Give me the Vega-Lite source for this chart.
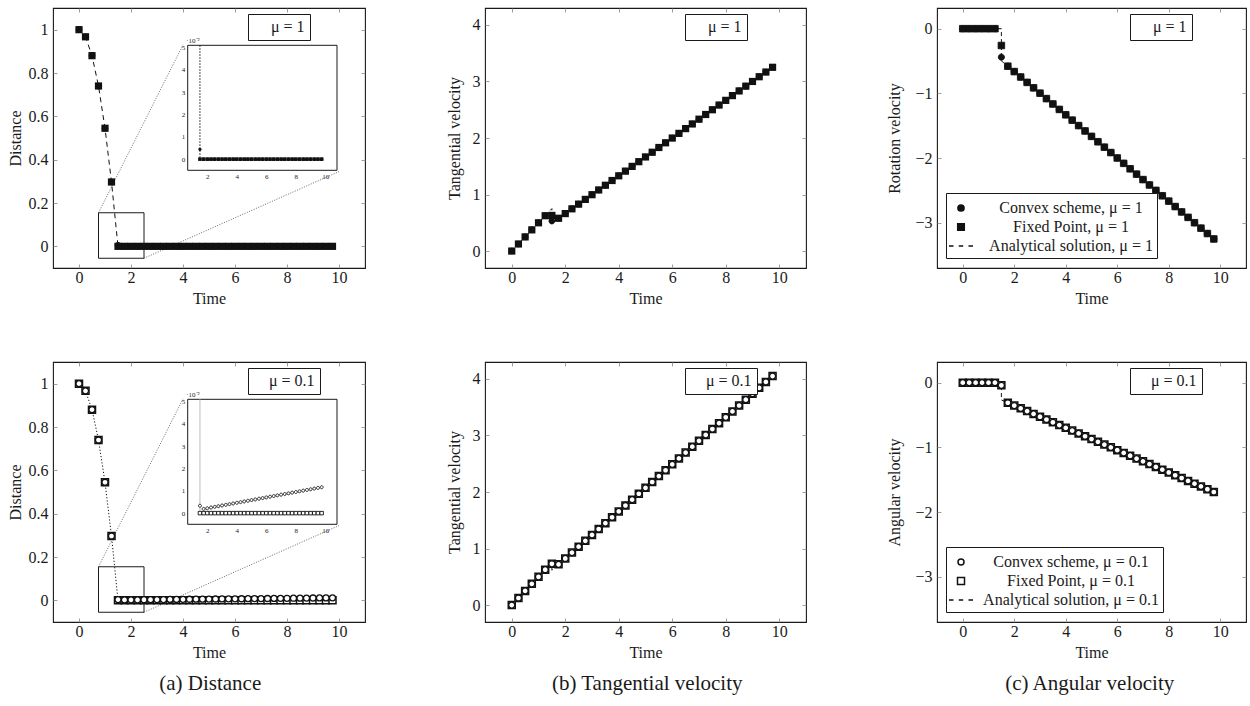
{
"$schema": "https://vega.github.io/schema/vega-lite/v6.json",
"padding": {"left": 6, "top": 7, "right": 1, "bottom": 1},
"background": "white",
"config": {
 "font": "Liberation Serif",
 "view": {"stroke": "#1a1a1a", "strokeWidth": 1.1},
 "axis": {"domain": false, "grid": false, "labelFont": "Liberation Serif", "labelFontSize": 16, "labelColor": "#1a1a1a", "titleFont": "Liberation Serif", "titleFontSize": 16, "titleFontWeight": "normal", "titleColor": "#1a1a1a", "tickColor": "#888888", "tickWidth": 0.8},
 "legend": {"labelFont": "Liberation Serif", "labelFontSize": 16, "labelColor": "#1a1a1a", "strokeColor": "#1a1a1a", "fillColor": "white"},
 "title": {"font": "Liberation Serif", "fontSize": 21, "fontWeight": "normal", "color": "#1a1a1a"}
},
"datasets": {
 "zoomBox": [{"t": 0.75, "t2": 2.5, "v": -0.055, "v2": 0.155}],
 "zoomLines": [{"t": 0.75, "v": 0.155, "t2": 4.0, "v2": 0.93}, {"t": 2.5, "v": -0.055, "t2": 10.0, "v2": 0.345}],
 "insetBox": [{"t": 0.67, "t2": 10.79, "v": -0.005, "v2": 0.051}],
 "insetA": [{"t": 1.5, "v": 0.051}, {"t": 1.5, "v": 0}, {"t": 9.75, "v": 0}],
 "TL_A": [{"t":0,"v":1},{"t":0.25,"v":0.967},{"t":0.5,"v":0.88},{"t":0.75,"v":0.74},{"t":1,"v":0.545},{"t":1.25,"v":0.297},{"t":1.5,"v":0},{"t":9.75,"v":0}],
 "TM_A": [{"t":0,"v":0},{"t":1.5,"v":0.75},{"t":1.5,"v":0.497},{"t":9.75,"v":3.251}],
 "BM_A": [{"t":0,"v":0},{"t":1.5,"v":0.75},{"t":1.5,"v":0.616},{"t":9.75,"v":4.051}],
 "TR_A": [{"t":0,"v":0},{"t":1.5,"v":0},{"t":1.5,"v":-0.497},{"t":9.75,"v":-3.251}],
 "BR_A": [{"t":0,"v":0},{"t":1.5,"v":0},{"t":1.5,"v":-0.267},{"t":9.75,"v":-1.69}],
 "TL": [{"t":0,"f":1,"c":1},{"t":0.25,"f":0.967,"c":0.967},{"t":0.5,"f":0.88,"c":0.88},{"t":0.75,"f":0.74,"c":0.74},{"t":1,"f":0.545,"c":0.545},{"t":1.25,"f":0.297,"c":0.297},{"t":1.5,"f":0,"c":0.0044},{"t":1.75,"f":0,"c":0},{"t":2,"f":0,"c":0},{"t":2.25,"f":0,"c":0},{"t":2.5,"f":0,"c":0},{"t":2.75,"f":0,"c":0},{"t":3,"f":0,"c":0},{"t":3.25,"f":0,"c":0},{"t":3.5,"f":0,"c":0},{"t":3.75,"f":0,"c":0},{"t":4,"f":0,"c":0},{"t":4.25,"f":0,"c":0},{"t":4.5,"f":0,"c":0},{"t":4.75,"f":0,"c":0},{"t":5,"f":0,"c":0},{"t":5.25,"f":0,"c":0},{"t":5.5,"f":0,"c":0},{"t":5.75,"f":0,"c":0},{"t":6,"f":0,"c":0},{"t":6.25,"f":0,"c":0},{"t":6.5,"f":0,"c":0},{"t":6.75,"f":0,"c":0},{"t":7,"f":0,"c":0},{"t":7.25,"f":0,"c":0},{"t":7.5,"f":0,"c":0},{"t":7.75,"f":0,"c":0},{"t":8,"f":0,"c":0},{"t":8.25,"f":0,"c":0},{"t":8.5,"f":0,"c":0},{"t":8.75,"f":0,"c":0},{"t":9,"f":0,"c":0},{"t":9.25,"f":0,"c":0},{"t":9.5,"f":0,"c":0},{"t":9.75,"f":0,"c":0}],
 "BL": [{"t":0,"f":1,"c":1},{"t":0.25,"f":0.967,"c":0.967},{"t":0.5,"f":0.88,"c":0.88},{"t":0.75,"f":0.74,"c":0.74},{"t":1,"f":0.545,"c":0.545},{"t":1.25,"f":0.297,"c":0.297},{"t":1.5,"f":0,"c":0.0033},{"t":1.75,"f":0,"c":0.0019},{"t":2,"f":0,"c":0.0022},{"t":2.25,"f":0,"c":0.00251},{"t":2.5,"f":0,"c":0.00281},{"t":2.75,"f":0,"c":0.00311},{"t":3,"f":0,"c":0.00342},{"t":3.25,"f":0,"c":0.00372},{"t":3.5,"f":0,"c":0.00402},{"t":3.75,"f":0,"c":0.00433},{"t":4,"f":0,"c":0.00463},{"t":4.25,"f":0,"c":0.00493},{"t":4.5,"f":0,"c":0.00523},{"t":4.75,"f":0,"c":0.00554},{"t":5,"f":0,"c":0.00584},{"t":5.25,"f":0,"c":0.00614},{"t":5.5,"f":0,"c":0.00645},{"t":5.75,"f":0,"c":0.00675},{"t":6,"f":0,"c":0.00705},{"t":6.25,"f":0,"c":0.00736},{"t":6.5,"f":0,"c":0.00766},{"t":6.75,"f":0,"c":0.00796},{"t":7,"f":0,"c":0.00827},{"t":7.25,"f":0,"c":0.00857},{"t":7.5,"f":0,"c":0.00887},{"t":7.75,"f":0,"c":0.00918},{"t":8,"f":0,"c":0.00948},{"t":8.25,"f":0,"c":0.00978},{"t":8.5,"f":0,"c":0.01008},{"t":8.75,"f":0,"c":0.01039},{"t":9,"f":0,"c":0.01069},{"t":9.25,"f":0,"c":0.01099},{"t":9.5,"f":0,"c":0.0113},{"t":9.75,"f":0,"c":0.0116}],
 "TM": [{"t":0,"f":0,"c":0},{"t":0.25,"f":0.125,"c":0.125},{"t":0.5,"f":0.25,"c":0.25},{"t":0.75,"f":0.375,"c":0.375},{"t":1,"f":0.5,"c":0.5},{"t":1.25,"f":0.625,"c":0.625},{"t":1.5,"f":0.63,"c":0.53},{"t":1.75,"f":0.58,"c":0.58},{"t":2,"f":0.663,"c":0.663},{"t":2.25,"f":0.747,"c":0.747},{"t":2.5,"f":0.83,"c":0.83},{"t":2.75,"f":0.914,"c":0.914},{"t":3,"f":0.997,"c":0.997},{"t":3.25,"f":1.081,"c":1.081},{"t":3.5,"f":1.164,"c":1.164},{"t":3.75,"f":1.248,"c":1.248},{"t":4,"f":1.331,"c":1.331},{"t":4.25,"f":1.414,"c":1.414},{"t":4.5,"f":1.498,"c":1.498},{"t":4.75,"f":1.581,"c":1.581},{"t":5,"f":1.665,"c":1.665},{"t":5.25,"f":1.748,"c":1.748},{"t":5.5,"f":1.832,"c":1.832},{"t":5.75,"f":1.915,"c":1.915},{"t":6,"f":1.999,"c":1.999},{"t":6.25,"f":2.082,"c":2.082},{"t":6.5,"f":2.166,"c":2.166},{"t":6.75,"f":2.249,"c":2.249},{"t":7,"f":2.333,"c":2.333},{"t":7.25,"f":2.416,"c":2.416},{"t":7.5,"f":2.5,"c":2.5},{"t":7.75,"f":2.583,"c":2.583},{"t":8,"f":2.666,"c":2.666},{"t":8.25,"f":2.75,"c":2.75},{"t":8.5,"f":2.833,"c":2.833},{"t":8.75,"f":2.917,"c":2.917},{"t":9,"f":3.0,"c":3.0},{"t":9.25,"f":3.084,"c":3.084},{"t":9.5,"f":3.167,"c":3.167},{"t":9.75,"f":3.251,"c":3.251}],
 "BM": [{"t":0,"f":0,"c":0},{"t":0.25,"f":0.125,"c":0.125},{"t":0.5,"f":0.25,"c":0.25},{"t":0.75,"f":0.375,"c":0.375},{"t":1,"f":0.5,"c":0.5},{"t":1.25,"f":0.625,"c":0.625},{"t":1.5,"f":0.73,"c":0.73},{"t":1.75,"f":0.72,"c":0.72},{"t":2,"f":0.824,"c":0.824},{"t":2.25,"f":0.928,"c":0.928},{"t":2.5,"f":1.032,"c":1.032},{"t":2.75,"f":1.136,"c":1.136},{"t":3,"f":1.241,"c":1.241},{"t":3.25,"f":1.345,"c":1.345},{"t":3.5,"f":1.449,"c":1.449},{"t":3.75,"f":1.553,"c":1.553},{"t":4,"f":1.657,"c":1.657},{"t":4.25,"f":1.761,"c":1.761},{"t":4.5,"f":1.865,"c":1.865},{"t":4.75,"f":1.969,"c":1.969},{"t":5,"f":2.073,"c":2.073},{"t":5.25,"f":2.177,"c":2.177},{"t":5.5,"f":2.281,"c":2.281},{"t":5.75,"f":2.385,"c":2.385},{"t":6,"f":2.49,"c":2.49},{"t":6.25,"f":2.594,"c":2.594},{"t":6.5,"f":2.698,"c":2.698},{"t":6.75,"f":2.802,"c":2.802},{"t":7,"f":2.906,"c":2.906},{"t":7.25,"f":3.01,"c":3.01},{"t":7.5,"f":3.114,"c":3.114},{"t":7.75,"f":3.218,"c":3.218},{"t":8,"f":3.322,"c":3.322},{"t":8.25,"f":3.426,"c":3.426},{"t":8.5,"f":3.53,"c":3.53},{"t":8.75,"f":3.634,"c":3.634},{"t":9,"f":3.739,"c":3.739},{"t":9.25,"f":3.843,"c":3.843},{"t":9.5,"f":3.947,"c":3.947},{"t":9.75,"f":4.051,"c":4.051}],
 "TR": [{"t":0,"f":0,"c":0},{"t":0.25,"f":0,"c":0},{"t":0.5,"f":0,"c":0},{"t":0.75,"f":0,"c":0},{"t":1,"f":0,"c":0},{"t":1.25,"f":0,"c":0},{"t":1.5,"f":-0.26,"c":-0.44},{"t":1.75,"f":-0.58,"c":-0.58},{"t":2,"f":-0.663,"c":-0.663},{"t":2.25,"f":-0.747,"c":-0.747},{"t":2.5,"f":-0.83,"c":-0.83},{"t":2.75,"f":-0.914,"c":-0.914},{"t":3,"f":-0.997,"c":-0.997},{"t":3.25,"f":-1.081,"c":-1.081},{"t":3.5,"f":-1.164,"c":-1.164},{"t":3.75,"f":-1.248,"c":-1.248},{"t":4,"f":-1.331,"c":-1.331},{"t":4.25,"f":-1.414,"c":-1.414},{"t":4.5,"f":-1.498,"c":-1.498},{"t":4.75,"f":-1.581,"c":-1.581},{"t":5,"f":-1.665,"c":-1.665},{"t":5.25,"f":-1.748,"c":-1.748},{"t":5.5,"f":-1.832,"c":-1.832},{"t":5.75,"f":-1.915,"c":-1.915},{"t":6,"f":-1.999,"c":-1.999},{"t":6.25,"f":-2.082,"c":-2.082},{"t":6.5,"f":-2.166,"c":-2.166},{"t":6.75,"f":-2.249,"c":-2.249},{"t":7,"f":-2.333,"c":-2.333},{"t":7.25,"f":-2.416,"c":-2.416},{"t":7.5,"f":-2.5,"c":-2.5},{"t":7.75,"f":-2.583,"c":-2.583},{"t":8,"f":-2.666,"c":-2.666},{"t":8.25,"f":-2.75,"c":-2.75},{"t":8.5,"f":-2.833,"c":-2.833},{"t":8.75,"f":-2.917,"c":-2.917},{"t":9,"f":-3.0,"c":-3.0},{"t":9.25,"f":-3.084,"c":-3.084},{"t":9.5,"f":-3.167,"c":-3.167},{"t":9.75,"f":-3.251,"c":-3.251}],
 "BR": [{"t":0,"f":0,"c":0},{"t":0.25,"f":0,"c":0},{"t":0.5,"f":0,"c":0},{"t":0.75,"f":0,"c":0},{"t":1,"f":0,"c":0},{"t":1.25,"f":0,"c":0},{"t":1.5,"f":-0.04,"c":-0.04},{"t":1.75,"f":-0.31,"c":-0.31},{"t":2,"f":-0.353,"c":-0.353},{"t":2.25,"f":-0.396,"c":-0.396},{"t":2.5,"f":-0.439,"c":-0.439},{"t":2.75,"f":-0.483,"c":-0.483},{"t":3,"f":-0.526,"c":-0.526},{"t":3.25,"f":-0.569,"c":-0.569},{"t":3.5,"f":-0.612,"c":-0.612},{"t":3.75,"f":-0.655,"c":-0.655},{"t":4,"f":-0.698,"c":-0.698},{"t":4.25,"f":-0.741,"c":-0.741},{"t":4.5,"f":-0.784,"c":-0.784},{"t":4.75,"f":-0.828,"c":-0.828},{"t":5,"f":-0.871,"c":-0.871},{"t":5.25,"f":-0.914,"c":-0.914},{"t":5.5,"f":-0.957,"c":-0.957},{"t":5.75,"f":-1.0,"c":-1.0},{"t":6,"f":-1.043,"c":-1.043},{"t":6.25,"f":-1.086,"c":-1.086},{"t":6.5,"f":-1.129,"c":-1.129},{"t":6.75,"f":-1.173,"c":-1.173},{"t":7,"f":-1.216,"c":-1.216},{"t":7.25,"f":-1.259,"c":-1.259},{"t":7.5,"f":-1.302,"c":-1.302},{"t":7.75,"f":-1.345,"c":-1.345},{"t":8,"f":-1.388,"c":-1.388},{"t":8.25,"f":-1.431,"c":-1.431},{"t":8.5,"f":-1.474,"c":-1.474},{"t":8.75,"f":-1.518,"c":-1.518},{"t":9,"f":-1.561,"c":-1.561},{"t":9.25,"f":-1.604,"c":-1.604},{"t":9.5,"f":-1.647,"c":-1.647},{"t":9.75,"f":-1.69,"c":-1.69}]
},
"spacing": 79,
"resolve": {"scale": {"shape": "independent", "strokeDash": "independent"}},
"hconcat": [
{
 "spacing": 54,
 "resolve": {"scale": {"shape": "independent", "strokeDash": "independent"}},
 "title": {"text": "(a) Distance", "orient": "bottom", "anchor": "middle", "offset": 12, "dx": 24},
 "vconcat": [
 {
  "width": 312, "height": 260,
  "resolve": {"scale": {"x": "independent", "y": "independent"}},
  "layer": [
    {"data": {"name": "zoomBox"}, "mark": {"type": "rect", "fillOpacity": 0, "stroke": "#1a1a1a", "strokeWidth": 1},
     "encoding": {"x": {"field": "t", "type": "quantitative", "scale": {"domain": [-1, 11], "nice": false, "zero": false}, "axis": {"orient": "bottom", "title": "Time", "values": [0,2,4,6,8,10], "offset": -4, "tickSize": 4, "labelPadding": 1, "titlePadding": 5, "format": "d"}}, "x2": {"field": "t2"},
      "y": {"field": "v", "type": "quantitative", "scale": {"domain": [-0.1, 1.1], "nice": false, "zero": false}, "axis": {"orient": "left", "title": "Distance", "values": [0,0.2,0.4,0.6,0.8,1], "offset": -4, "tickSize": 4, "labelPadding": 5, "titlePadding": 5, "format": ".1~f"}}, "y2": {"field": "v2"}}},
    {"data": {"name": "zoomBox"}, "mark": {"type": "point", "opacity": 0},
     "encoding": {"x": {"field": "t", "type": "quantitative", "scale": {"domain": [-1, 11], "nice": false, "zero": false}, "axis": {"orient": "top", "title": null, "labels": false, "values": [0,2,4,6,8,10], "offset": -4, "tickSize": 4}},
      "y": {"field": "v", "type": "quantitative", "scale": {"domain": [-0.1, 1.1], "nice": false, "zero": false}, "axis": {"orient": "right", "title": null, "labels": false, "values": [0,0.2,0.4,0.6,0.8,1], "offset": -4, "tickSize": 4}}}},
    {"data": {"name": "zoomLines"}, "mark": {"type": "rule", "stroke": "#444444", "strokeWidth": 0.8, "strokeDash": [1, 1.5]},
     "encoding": {"x": {"field": "t", "type": "quantitative", "scale": {"domain": [-1, 11], "nice": false, "zero": false}, "axis": null}, "x2": {"field": "t2"},
      "y": {"field": "v", "type": "quantitative", "scale": {"domain": [-0.1, 1.1], "nice": false, "zero": false}, "axis": null}, "y2": {"field": "v2"}}},
    {"data": {"name": "TL_A"}, "mark": {"type": "line", "stroke": "#111111", "strokeWidth": 1},
     "encoding": {"x": {"field": "t", "type": "quantitative", "scale": {"domain": [-1, 11], "nice": false, "zero": false}, "axis": null},
      "y": {"field": "v", "type": "quantitative", "scale": {"domain": [-0.1, 1.1], "nice": false, "zero": false}, "axis": null},
      "order": {"value": null},
      "strokeDash": {"datum": "μ = 1", "type": "nominal", "scale": {"range": [[5, 4]]}, "legend": {"title": null, "orient": "none", "legendX": 195, "legendY": 6, "padding": 5, "symbolSize": 4, "symbolOpacity": 0, "labelOffset": 2, "labelColor": "#1a1a1a", "labelExpr": "datum.label + '\u00a0\u00a0\u00a0\u00a0\u00a0'"}}}},
    {"data": {"name": "TL"}, "mark": {"type": "point", "filled": true, "fill": "#111111", "strokeWidth": 0, "size": 400, "opacity": 1},
     "encoding": {"x": {"field": "t", "type": "quantitative", "scale": {"domain": [-1, 11], "nice": false, "zero": false}, "axis": null},
      "y": {"field": "f", "type": "quantitative", "scale": {"domain": [-0.1, 1.1], "nice": false, "zero": false}, "axis": null},
      "shape": {"datum": "Fixed Point, μ = 1", "type": "nominal", "scale": {"domain": ["Convex scheme, μ = 1", "Fixed Point, μ = 1", "Analytical solution, μ = 1"], "range": ["M0.33,0A0.33,0.33,0,1,1,-0.33,0A0.33,0.33,0,1,1,0.33,0Z", "M-0.36,-0.36H0.36V0.36H-0.36Z", "M-1.2,0H-0.75M-0.22,0H0.22M0.75,0H1.2"]}, "legend": null}}},
    {"data": {"name": "TL"}, "mark": {"type": "point", "filled": true, "fill": "#111111", "strokeWidth": 0, "size": 400, "opacity": 1},
     "encoding": {"x": {"field": "t", "type": "quantitative", "scale": {"domain": [-1, 11], "nice": false, "zero": false}, "axis": null},
      "y": {"field": "c", "type": "quantitative", "scale": {"domain": [-0.1, 1.1], "nice": false, "zero": false}, "axis": null},
      "shape": {"datum": "Convex scheme, μ = 1", "type": "nominal", "legend": null}}},
    {"data": {"name": "insetBox"}, "mark": {"type": "rect", "fill": "white", "stroke": "#1a1a1a", "strokeWidth": 1},
     "encoding": {"x": {"field": "t", "type": "quantitative", "scale": {"domain": [0.67, 10.79], "range": [134.7, 284], "nice": false, "zero": false}, "axis": {"orient": "bottom", "title": null, "values": [2,4,6,8,10], "offset": -100.7, "tickSize": 3, "labelPadding": 2, "labelFontSize": 7, "format": "d"}}, "x2": {"field": "t2"},
      "y": {"field": "v", "type": "quantitative", "scale": {"domain": [-0.005, 0.051], "range": [162.3, 37.3], "nice": false, "zero": false}, "axis": {"orient": "left", "title": "·10⁻²", "titleAngle": 0, "titleX": -5, "titleY": 32, "titleAlign": "left", "titleBaseline": "middle", "titleFontSize": 7, "values": [0,0.01,0.02,0.03,0.04,0.05], "labelExpr": "format(datum.value*100, '.0f')", "offset": -137.7, "tickSize": 3, "labelPadding": 3, "labelFontSize": 7}}, "y2": {"field": "v2"}}},
    {"data": {"name": "insetA"}, "mark": {"type": "line", "stroke": "#111111", "strokeWidth": 1, "strokeDash": [1.5, 1.5]},
     "encoding": {"x": {"field": "t", "type": "quantitative", "scale": {"domain": [0.67, 10.79], "range": [134.7, 284], "nice": false, "zero": false}, "axis": null},
      "y": {"field": "v", "type": "quantitative", "scale": {"domain": [-0.005, 0.051], "range": [162.3, 37.3], "nice": false, "zero": false}, "axis": null}, "order": {"value": null}}},
    {"data": {"name": "TL"}, "transform": [{"filter": "datum.t >= 1.5"}], "mark": {"type": "point", "filled": true, "fill": "#111111", "strokeWidth": 0, "size": 100, "opacity": 1},
     "encoding": {"x": {"field": "t", "type": "quantitative", "scale": {"domain": [0.67, 10.79], "range": [134.7, 284], "nice": false, "zero": false}, "axis": null},
      "y": {"field": "f", "type": "quantitative", "scale": {"domain": [-0.005, 0.051], "range": [162.3, 37.3], "nice": false, "zero": false}, "axis": null},
      "shape": {"datum": "Fixed Point, μ = 1", "type": "nominal", "legend": null}}},
    {"data": {"name": "TL"}, "transform": [{"filter": "datum.t >= 1.5"}], "mark": {"type": "point", "filled": true, "fill": "#111111", "strokeWidth": 0, "size": 100, "opacity": 1},
     "encoding": {"x": {"field": "t", "type": "quantitative", "scale": {"domain": [0.67, 10.79], "range": [134.7, 284], "nice": false, "zero": false}, "axis": null},
      "y": {"field": "c", "type": "quantitative", "scale": {"domain": [-0.005, 0.051], "range": [162.3, 37.3], "nice": false, "zero": false}, "axis": null},
      "shape": {"datum": "Convex scheme, μ = 1", "type": "nominal", "legend": null}}}
  ]
 },
 {
  "width": 312, "height": 260,
  "resolve": {"scale": {"x": "independent", "y": "independent"}},
  "layer": [
    {"data": {"name": "zoomBox"}, "mark": {"type": "rect", "fillOpacity": 0, "stroke": "#1a1a1a", "strokeWidth": 1},
     "encoding": {"x": {"field": "t", "type": "quantitative", "scale": {"domain": [-1, 11], "nice": false, "zero": false}, "axis": {"orient": "bottom", "title": "Time", "values": [0,2,4,6,8,10], "offset": -4, "tickSize": 4, "labelPadding": 1, "titlePadding": 5, "format": "d"}}, "x2": {"field": "t2"},
      "y": {"field": "v", "type": "quantitative", "scale": {"domain": [-0.1, 1.1], "nice": false, "zero": false}, "axis": {"orient": "left", "title": "Distance", "values": [0,0.2,0.4,0.6,0.8,1], "offset": -4, "tickSize": 4, "labelPadding": 5, "titlePadding": 5, "format": ".1~f"}}, "y2": {"field": "v2"}}},
    {"data": {"name": "zoomBox"}, "mark": {"type": "point", "opacity": 0},
     "encoding": {"x": {"field": "t", "type": "quantitative", "scale": {"domain": [-1, 11], "nice": false, "zero": false}, "axis": {"orient": "top", "title": null, "labels": false, "values": [0,2,4,6,8,10], "offset": -4, "tickSize": 4}},
      "y": {"field": "v", "type": "quantitative", "scale": {"domain": [-0.1, 1.1], "nice": false, "zero": false}, "axis": {"orient": "right", "title": null, "labels": false, "values": [0,0.2,0.4,0.6,0.8,1], "offset": -4, "tickSize": 4}}}},
    {"data": {"name": "zoomLines"}, "mark": {"type": "rule", "stroke": "#444444", "strokeWidth": 0.8, "strokeDash": [1, 1.5]},
     "encoding": {"x": {"field": "t", "type": "quantitative", "scale": {"domain": [-1, 11], "nice": false, "zero": false}, "axis": null}, "x2": {"field": "t2"},
      "y": {"field": "v", "type": "quantitative", "scale": {"domain": [-0.1, 1.1], "nice": false, "zero": false}, "axis": null}, "y2": {"field": "v2"}}},
    {"data": {"name": "TL_A"}, "mark": {"type": "line", "stroke": "#111111", "strokeWidth": 1},
     "encoding": {"x": {"field": "t", "type": "quantitative", "scale": {"domain": [-1, 11], "nice": false, "zero": false}, "axis": null},
      "y": {"field": "v", "type": "quantitative", "scale": {"domain": [-0.1, 1.1], "nice": false, "zero": false}, "axis": null},
      "order": {"value": null},
      "strokeDash": {"datum": "μ = 0.1", "type": "nominal", "scale": {"range": [[1.2, 2]]}, "legend": {"title": null, "orient": "none", "legendX": 195, "legendY": 6, "padding": 5, "symbolSize": 4, "symbolOpacity": 0, "labelOffset": 0, "labelColor": "#1a1a1a"}}}},
    {"data": {"name": "BL"}, "mark": {"type": "point", "filled": true, "fill": "white", "stroke": "#111111", "strokeWidth": 1.5, "size": 400, "opacity": 1},
     "encoding": {"x": {"field": "t", "type": "quantitative", "scale": {"domain": [-1, 11], "nice": false, "zero": false}, "axis": null},
      "y": {"field": "f", "type": "quantitative", "scale": {"domain": [-0.1, 1.1], "nice": false, "zero": false}, "axis": null},
      "shape": {"datum": "Fixed Point, μ = 0.1", "type": "nominal", "scale": {"domain": ["Convex scheme, μ = 0.1", "Fixed Point, μ = 0.1", "Analytical solution, μ = 0.1"], "range": ["M0.3,0A0.3,0.3,0,1,1,-0.3,0A0.3,0.3,0,1,1,0.3,0Z", "M-0.35,-0.35H0.35V0.35H-0.35Z", "M-1.2,0H-0.75M-0.22,0H0.22M0.75,0H1.2"]}, "legend": null}}},
    {"data": {"name": "BL"}, "mark": {"type": "point", "filled": true, "fill": "white", "stroke": "#111111", "strokeWidth": 1.3, "size": 400, "opacity": 1},
     "encoding": {"x": {"field": "t", "type": "quantitative", "scale": {"domain": [-1, 11], "nice": false, "zero": false}, "axis": null},
      "y": {"field": "c", "type": "quantitative", "scale": {"domain": [-0.1, 1.1], "nice": false, "zero": false}, "axis": null},
      "shape": {"datum": "Convex scheme, μ = 0.1", "type": "nominal", "legend": null}}},
    {"data": {"name": "insetBox"}, "mark": {"type": "rect", "fill": "white", "stroke": "#1a1a1a", "strokeWidth": 1},
     "encoding": {"x": {"field": "t", "type": "quantitative", "scale": {"domain": [0.67, 10.79], "range": [134.7, 284], "nice": false, "zero": false}, "axis": {"orient": "bottom", "title": null, "values": [2,4,6,8,10], "offset": -100.7, "tickSize": 3, "labelPadding": 2, "labelFontSize": 7, "format": "d"}}, "x2": {"field": "t2"},
      "y": {"field": "v", "type": "quantitative", "scale": {"domain": [-0.005, 0.051], "range": [162.3, 37.3], "nice": false, "zero": false}, "axis": {"orient": "left", "title": "·10⁻²", "titleAngle": 0, "titleX": -5, "titleY": 32, "titleAlign": "left", "titleBaseline": "middle", "titleFontSize": 7, "values": [0,0.01,0.02,0.03,0.04,0.05], "labelExpr": "format(datum.value*100, '.0f')", "offset": -137.7, "tickSize": 3, "labelPadding": 3, "labelFontSize": 7}}, "y2": {"field": "v2"}}},
    {"data": {"name": "insetA"}, "mark": {"type": "line", "stroke": "#bbbbbb", "strokeWidth": 1},
     "encoding": {"x": {"field": "t", "type": "quantitative", "scale": {"domain": [0.67, 10.79], "range": [134.7, 284], "nice": false, "zero": false}, "axis": null},
      "y": {"field": "v", "type": "quantitative", "scale": {"domain": [-0.005, 0.051], "range": [162.3, 37.3], "nice": false, "zero": false}, "axis": null}, "order": {"value": null}}},
    {"data": {"name": "BL"}, "transform": [{"filter": "datum.t >= 1.5"}], "mark": {"type": "point", "filled": true, "fill": "white", "stroke": "#111111", "strokeWidth": 0.9, "size": 100, "opacity": 1},
     "encoding": {"x": {"field": "t", "type": "quantitative", "scale": {"domain": [0.67, 10.79], "range": [134.7, 284], "nice": false, "zero": false}, "axis": null},
      "y": {"field": "f", "type": "quantitative", "scale": {"domain": [-0.005, 0.051], "range": [162.3, 37.3], "nice": false, "zero": false}, "axis": null},
      "shape": {"datum": "Fixed Point, μ = 0.1", "type": "nominal", "legend": null}}},
    {"data": {"name": "BL"}, "transform": [{"filter": "datum.t >= 1.5"}], "mark": {"type": "point", "filled": true, "fill": "white", "stroke": "#111111", "strokeWidth": 0.9, "size": 100, "opacity": 1},
     "encoding": {"x": {"field": "t", "type": "quantitative", "scale": {"domain": [0.67, 10.79], "range": [134.7, 284], "nice": false, "zero": false}, "axis": null},
      "y": {"field": "c", "type": "quantitative", "scale": {"domain": [-0.005, 0.051], "range": [162.3, 37.3], "nice": false, "zero": false}, "axis": null},
      "shape": {"datum": "Convex scheme, μ = 0.1", "type": "nominal", "legend": null}}}
  ]
 }
 ]
},
{
 "spacing": 54,
 "resolve": {"scale": {"shape": "independent", "strokeDash": "independent"}},
 "title": {"text": "(b) Tangential velocity", "orient": "bottom", "anchor": "middle", "offset": 12, "dx": 21},
 "vconcat": [
 {
  "width": 321, "height": 260,
  "resolve": {"scale": {"x": "independent", "y": "independent"}},
  "layer": [
    {"data": {"name": "TM_A"}, "mark": {"type": "line", "stroke": "#111111", "strokeWidth": 1},
     "encoding": {"x": {"field": "t", "type": "quantitative", "scale": {"domain": [-1, 11], "nice": false, "zero": false}, "axis": {"orient": "bottom", "title": "Time", "values": [0,2,4,6,8,10], "offset": -4, "tickSize": 4, "labelPadding": 1, "titlePadding": 5, "format": "d"}},
      "y": {"field": "v", "type": "quantitative", "scale": {"domain": [-0.3, 4.3], "nice": false, "zero": false}, "axis": {"orient": "left", "title": "Tangential velocity", "values": [0,1,2,3,4], "offset": -4, "tickSize": 4, "labelPadding": 5, "titlePadding": 10, "format": "d"}},
      "order": {"value": null},
      "strokeDash": {"datum": "μ = 1", "type": "nominal", "scale": {"range": [[4, 3]]}, "legend": {"title": null, "orient": "none", "legendX": 200, "legendY": 6, "padding": 5, "symbolSize": 4, "symbolOpacity": 0, "labelOffset": 2, "labelColor": "#1a1a1a", "labelExpr": "datum.label + '\u00a0\u00a0\u00a0\u00a0\u00a0'"}}}},
    {"data": {"name": "TM"}, "mark": {"type": "point", "opacity": 0},
     "encoding": {"x": {"field": "t", "type": "quantitative", "scale": {"domain": [-1, 11], "nice": false, "zero": false}, "axis": {"orient": "top", "title": null, "labels": false, "values": [0,2,4,6,8,10], "offset": -4, "tickSize": 4}},
      "y": {"field": "f", "type": "quantitative", "scale": {"domain": [-0.3, 4.3], "nice": false, "zero": false}, "axis": {"orient": "right", "title": null, "labels": false, "values": [0,1,2,3,4], "offset": -4, "tickSize": 4}}}},
    {"data": {"name": "TM"}, "mark": {"type": "point", "filled": true, "fill": "#111111", "strokeWidth": 0, "size": 400, "opacity": 1},
     "encoding": {"x": {"field": "t", "type": "quantitative", "scale": {"domain": [-1, 11], "nice": false, "zero": false}, "axis": null},
      "y": {"field": "f", "type": "quantitative", "scale": {"domain": [-0.3, 4.3], "nice": false, "zero": false}, "axis": null},
      "shape": {"datum": "Fixed Point, μ = 1", "type": "nominal", "scale": {"domain": ["Convex scheme, μ = 1", "Fixed Point, μ = 1", "Analytical solution, μ = 1"], "range": ["M0.33,0A0.33,0.33,0,1,1,-0.33,0A0.33,0.33,0,1,1,0.33,0Z", "M-0.36,-0.36H0.36V0.36H-0.36Z", "M-1.2,0H-0.75M-0.22,0H0.22M0.75,0H1.2"]}, "legend": null}}},
    {"data": {"name": "TM"}, "mark": {"type": "point", "filled": true, "fill": "#111111", "strokeWidth": 0, "size": 400, "opacity": 1},
     "encoding": {"x": {"field": "t", "type": "quantitative", "scale": {"domain": [-1, 11], "nice": false, "zero": false}, "axis": null},
      "y": {"field": "c", "type": "quantitative", "scale": {"domain": [-0.3, 4.3], "nice": false, "zero": false}, "axis": null},
      "shape": {"datum": "Convex scheme, μ = 1", "type": "nominal", "legend": null}}}
  ]
 },
 {
  "width": 321, "height": 260,
  "resolve": {"scale": {"x": "independent", "y": "independent"}},
  "layer": [
    {"data": {"name": "BM_A"}, "mark": {"type": "line", "stroke": "#111111", "strokeWidth": 1},
     "encoding": {"x": {"field": "t", "type": "quantitative", "scale": {"domain": [-1, 11], "nice": false, "zero": false}, "axis": {"orient": "bottom", "title": "Time", "values": [0,2,4,6,8,10], "offset": -4, "tickSize": 4, "labelPadding": 1, "titlePadding": 5, "format": "d"}},
      "y": {"field": "v", "type": "quantitative", "scale": {"domain": [-0.3, 4.3], "nice": false, "zero": false}, "axis": {"orient": "left", "title": "Tangential velocity", "values": [0,1,2,3,4], "offset": -4, "tickSize": 4, "labelPadding": 5, "titlePadding": 10, "format": "d"}},
      "order": {"value": null},
      "strokeDash": {"datum": "μ = 0.1", "type": "nominal", "scale": {"range": [[4, 3]]}, "legend": {"title": null, "orient": "none", "legendX": 200, "legendY": 6, "padding": 5, "symbolSize": 4, "symbolOpacity": 0, "labelOffset": 0, "labelColor": "#1a1a1a"}}}},
    {"data": {"name": "BM"}, "mark": {"type": "point", "opacity": 0},
     "encoding": {"x": {"field": "t", "type": "quantitative", "scale": {"domain": [-1, 11], "nice": false, "zero": false}, "axis": {"orient": "top", "title": null, "labels": false, "values": [0,2,4,6,8,10], "offset": -4, "tickSize": 4}},
      "y": {"field": "f", "type": "quantitative", "scale": {"domain": [-0.3, 4.3], "nice": false, "zero": false}, "axis": {"orient": "right", "title": null, "labels": false, "values": [0,1,2,3,4], "offset": -4, "tickSize": 4}}}},
    {"data": {"name": "BM"}, "mark": {"type": "point", "filled": true, "fill": "white", "stroke": "#111111", "strokeWidth": 1.5, "size": 400, "opacity": 1},
     "encoding": {"x": {"field": "t", "type": "quantitative", "scale": {"domain": [-1, 11], "nice": false, "zero": false}, "axis": null},
      "y": {"field": "f", "type": "quantitative", "scale": {"domain": [-0.3, 4.3], "nice": false, "zero": false}, "axis": null},
      "shape": {"datum": "Fixed Point, μ = 0.1", "type": "nominal", "scale": {"domain": ["Convex scheme, μ = 0.1", "Fixed Point, μ = 0.1", "Analytical solution, μ = 0.1"], "range": ["M0.3,0A0.3,0.3,0,1,1,-0.3,0A0.3,0.3,0,1,1,0.3,0Z", "M-0.35,-0.35H0.35V0.35H-0.35Z", "M-1.2,0H-0.75M-0.22,0H0.22M0.75,0H1.2"]}, "legend": null}}},
    {"data": {"name": "BM"}, "mark": {"type": "point", "filled": true, "fill": "white", "stroke": "#111111", "strokeWidth": 1.3, "size": 400, "opacity": 1},
     "encoding": {"x": {"field": "t", "type": "quantitative", "scale": {"domain": [-1, 11], "nice": false, "zero": false}, "axis": null},
      "y": {"field": "c", "type": "quantitative", "scale": {"domain": [-0.3, 4.3], "nice": false, "zero": false}, "axis": null},
      "shape": {"datum": "Convex scheme, μ = 0.1", "type": "nominal", "legend": null}}}
  ]
 }
 ]
},
{
 "spacing": 54,
 "resolve": {"scale": {"shape": "independent", "strokeDash": "independent"}},
 "title": {"text": "(c) Angular velocity", "orient": "bottom", "anchor": "middle", "offset": 12, "dx": 23},
 "vconcat": [
 {
  "width": 309, "height": 260,
  "resolve": {"scale": {"x": "independent", "y": "independent"}},
  "layer": [
    {"data": {"name": "TR_A"}, "mark": {"type": "line", "stroke": "#111111", "strokeWidth": 1},
     "encoding": {"x": {"field": "t", "type": "quantitative", "scale": {"domain": [-1, 11], "nice": false, "zero": false}, "axis": {"orient": "bottom", "title": "Time", "values": [0,2,4,6,8,10], "offset": -4, "tickSize": 4, "labelPadding": 1, "titlePadding": 5, "format": "d"}},
      "y": {"field": "v", "type": "quantitative", "scale": {"domain": [-3.7, 0.32], "nice": false, "zero": false}, "axis": {"orient": "left", "title": "Rotation velocity", "values": [-3,-2,-1,0], "offset": -4, "tickSize": 4, "labelPadding": 5, "titlePadding": 12, "format": "d"}},
      "order": {"value": null},
      "strokeDash": {"datum": "μ = 1", "type": "nominal", "scale": {"range": [[4, 3]]}, "legend": {"title": null, "orient": "none", "legendX": 193, "legendY": 6, "padding": 5, "symbolSize": 4, "symbolOpacity": 0, "labelOffset": 2, "labelColor": "#1a1a1a", "labelExpr": "datum.label + '\u00a0\u00a0\u00a0\u00a0\u00a0'"}}}},
    {"data": {"name": "TR"}, "mark": {"type": "point", "opacity": 0},
     "encoding": {"x": {"field": "t", "type": "quantitative", "scale": {"domain": [-1, 11], "nice": false, "zero": false}, "axis": {"orient": "top", "title": null, "labels": false, "values": [0,2,4,6,8,10], "offset": -4, "tickSize": 4}},
      "y": {"field": "f", "type": "quantitative", "scale": {"domain": [-3.7, 0.32], "nice": false, "zero": false}, "axis": {"orient": "right", "title": null, "labels": false, "values": [-3,-2,-1,0], "offset": -4, "tickSize": 4}}}},
    {"data": {"name": "TR"}, "mark": {"type": "point", "filled": true, "fill": "#111111", "stroke": "#111111", "strokeWidth": 0.8, "size": 400, "opacity": 1},
     "encoding": {"x": {"field": "t", "type": "quantitative", "scale": {"domain": [-1, 11], "nice": false, "zero": false}, "axis": null},
      "y": {"field": "f", "type": "quantitative", "scale": {"domain": [-3.7, 0.32], "nice": false, "zero": false}, "axis": null},
      "shape": {"datum": "Fixed Point, μ = 1", "type": "nominal", "scale": {"domain": ["Convex scheme, μ = 1", "Fixed Point, μ = 1", "Analytical solution, μ = 1"], "range": ["M0.31,0A0.31,0.31,0,1,1,-0.31,0A0.31,0.31,0,1,1,0.31,0Z", "M-0.33,-0.33H0.33V0.33H-0.33Z", "M-1.2,0H-0.75M-0.22,0H0.22M0.75,0H1.2"]},
       "legend": {"title": null, "orient": "none", "legendX": 9, "legendY": 185, "padding": 4, "rowPadding": 0, "symbolSize": 400, "labelAlign": "center", "labelOffset": 99, "labelLimit": 300, "labelColor": "#1a1a1a", "encode": {"symbols": {"update": {"fill": {"value": "#111111"}, "stroke": {"value": "#111111"}, "strokeWidth": {"value": 1}, "opacity": {"value": 1}}}}}}}},
    {"data": {"name": "TR"}, "mark": {"type": "point", "filled": true, "fill": "#111111", "stroke": "#111111", "strokeWidth": 0.8, "size": 400, "opacity": 1},
     "encoding": {"x": {"field": "t", "type": "quantitative", "scale": {"domain": [-1, 11], "nice": false, "zero": false}, "axis": null},
      "y": {"field": "c", "type": "quantitative", "scale": {"domain": [-3.7, 0.32], "nice": false, "zero": false}, "axis": null},
      "shape": {"datum": "Convex scheme, μ = 1", "type": "nominal"}}}
  ]
 },
 {
  "width": 309, "height": 260,
  "resolve": {"scale": {"x": "independent", "y": "independent"}},
  "layer": [
    {"data": {"name": "BR_A"}, "mark": {"type": "line", "stroke": "#111111", "strokeWidth": 1},
     "encoding": {"x": {"field": "t", "type": "quantitative", "scale": {"domain": [-1, 11], "nice": false, "zero": false}, "axis": {"orient": "bottom", "title": "Time", "values": [0,2,4,6,8,10], "offset": -4, "tickSize": 4, "labelPadding": 1, "titlePadding": 5, "format": "d"}},
      "y": {"field": "v", "type": "quantitative", "scale": {"domain": [-3.7, 0.32], "nice": false, "zero": false}, "axis": {"orient": "left", "title": "Angular velocity", "values": [-3,-2,-1,0], "offset": -4, "tickSize": 4, "labelPadding": 5, "titlePadding": 12, "format": "d"}},
      "order": {"value": null},
      "strokeDash": {"datum": "μ = 0.1", "type": "nominal", "scale": {"range": [[4, 3]]}, "legend": {"title": null, "orient": "none", "legendX": 193, "legendY": 6, "padding": 5, "symbolSize": 4, "symbolOpacity": 0, "labelOffset": 0, "labelColor": "#1a1a1a"}}}},
    {"data": {"name": "BR"}, "mark": {"type": "point", "opacity": 0},
     "encoding": {"x": {"field": "t", "type": "quantitative", "scale": {"domain": [-1, 11], "nice": false, "zero": false}, "axis": {"orient": "top", "title": null, "labels": false, "values": [0,2,4,6,8,10], "offset": -4, "tickSize": 4}},
      "y": {"field": "f", "type": "quantitative", "scale": {"domain": [-3.7, 0.32], "nice": false, "zero": false}, "axis": {"orient": "right", "title": null, "labels": false, "values": [-3,-2,-1,0], "offset": -4, "tickSize": 4}}}},
    {"data": {"name": "BR"}, "mark": {"type": "point", "filled": true, "fill": "white", "stroke": "#111111", "strokeWidth": 1.5, "size": 400, "opacity": 1},
     "encoding": {"x": {"field": "t", "type": "quantitative", "scale": {"domain": [-1, 11], "nice": false, "zero": false}, "axis": null},
      "y": {"field": "f", "type": "quantitative", "scale": {"domain": [-3.7, 0.32], "nice": false, "zero": false}, "axis": null},
      "shape": {"datum": "Fixed Point, μ = 0.1", "type": "nominal", "scale": {"domain": ["Convex scheme, μ = 0.1", "Fixed Point, μ = 0.1", "Analytical solution, μ = 0.1"], "range": ["M0.3,0A0.3,0.3,0,1,1,-0.3,0A0.3,0.3,0,1,1,0.3,0Z", "M-0.35,-0.35H0.35V0.35H-0.35Z", "M-1.2,0H-0.75M-0.22,0H0.22M0.75,0H1.2"]},
       "legend": {"title": null, "orient": "none", "legendX": 9, "legendY": 185, "padding": 4, "rowPadding": 0, "symbolSize": 400, "labelAlign": "center", "labelOffset": 99, "labelLimit": 300, "labelColor": "#1a1a1a", "encode": {"symbols": {"update": {"fill": {"value": "white"}, "stroke": {"value": "#111111"}, "strokeWidth": {"value": 1.2}, "opacity": {"value": 1}}}}}}}},
    {"data": {"name": "BR"}, "mark": {"type": "point", "filled": true, "fill": "white", "stroke": "#111111", "strokeWidth": 1.3, "size": 400, "opacity": 1},
     "encoding": {"x": {"field": "t", "type": "quantitative", "scale": {"domain": [-1, 11], "nice": false, "zero": false}, "axis": null},
      "y": {"field": "c", "type": "quantitative", "scale": {"domain": [-3.7, 0.32], "nice": false, "zero": false}, "axis": null},
      "shape": {"datum": "Convex scheme, μ = 0.1", "type": "nominal"}}}
  ]
 }
 ]
}
]
}
